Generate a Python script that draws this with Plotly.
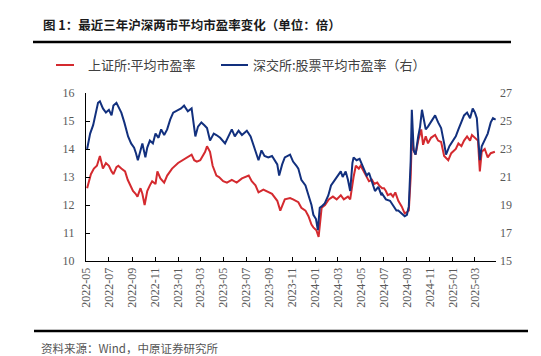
import plotly.graph_objects as go

# ---------------- data ----------------
red_name = "上证所:平均市盈率"
blue_name = "深交所:股票平均市盈率（右）"

red_dates = [
    "2022-05-04", "2022-05-14", "2022-05-22", "2022-05-30", "2022-06-07", "2022-06-15", "2022-06-23",
    "2022-07-01", "2022-07-08", "2022-07-13", "2022-07-21", "2022-07-26", "2022-08-03", "2022-08-13",
    "2022-08-20", "2022-08-28", "2022-09-03", "2022-09-10", "2022-09-15", "2022-09-23", "2022-09-28",
    "2022-10-04", "2022-10-11", "2022-10-18", "2022-10-24", "2022-11-02", "2022-11-07", "2022-11-15",
    "2022-11-25", "2022-12-03", "2022-12-16", "2023-01-01", "2023-01-14", "2023-01-27", "2023-02-06",
    "2023-02-13", "2023-02-20", "2023-03-01", "2023-03-09", "2023-03-14", "2023-03-19", "2023-03-27",
    "2023-04-03", "2023-04-08", "2023-04-13", "2023-04-20", "2023-05-01", "2023-05-11", "2023-05-24",
    "2023-06-06", "2023-06-20", "2023-07-08", "2023-07-16", "2023-07-26", "2023-08-03", "2023-08-16",
    "2023-08-29", "2023-09-08", "2023-09-22", "2023-09-30", "2023-10-12", "2023-10-26", "2023-11-03",
    "2023-11-12", "2023-11-17", "2023-11-25", "2023-12-06", "2023-12-14", "2023-12-22", "2023-12-27",
    "2024-01-04", "2024-01-10", "2024-01-15", "2024-01-18", "2024-01-27", "2024-02-06", "2024-02-17",
    "2024-02-27", "2024-03-09", "2024-03-17", "2024-03-28", "2024-04-03", "2024-04-12", "2024-04-18",
    "2024-04-26", "2024-05-01", "2024-05-09", "2024-05-17", "2024-05-23", "2024-05-31", "2024-06-06",
    "2024-06-14", "2024-06-19", "2024-06-27", "2024-07-02", "2024-07-07", "2024-07-12", "2024-07-20",
    "2024-07-26", "2024-08-01", "2024-08-09", "2024-08-18", "2024-08-26", "2024-09-01", "2024-09-06",
    "2024-09-11", "2024-09-14", "2024-09-19", "2024-09-24", "2024-10-01", "2024-10-09", "2024-10-14",
    "2024-10-21", "2024-10-27", "2024-11-04", "2024-11-15", "2024-11-23", "2024-12-01", "2024-12-09",
    "2024-12-20", "2024-12-28", "2025-01-09", "2025-01-16", "2025-01-24", "2025-01-31", "2025-02-08",
    "2025-02-16", "2025-02-21", "2025-03-01", "2025-03-09", "2025-03-14", "2025-03-19", "2025-03-27",
    "2025-04-04", "2025-04-12", "2025-04-23",
]
red_vals = [
    12.6, 13.1, 13.3, 13.4, 13.75, 13.3, 13.5,
    13.4, 13.2, 13.1, 13.35, 13.4, 13.3, 13.2,
    12.9, 12.7, 12.5, 12.4, 12.3, 12.6, 12.4,
    12.0, 12.5, 12.7, 12.85, 12.75, 13.2, 12.95,
    12.8, 13.05, 13.3, 13.5, 13.6, 13.7, 13.8,
    13.6, 13.55, 13.6, 13.8, 13.9, 14.1, 13.9,
    13.4, 13.2, 13.05, 13.0, 12.85, 12.8, 12.9,
    12.8, 12.95, 13.05, 12.85, 12.7, 12.45, 12.55,
    12.45, 12.4, 12.15, 11.8, 12.2, 12.25, 12.2,
    12.15, 12.1, 11.9, 11.8, 11.6, 11.3, 11.2,
    11.1, 10.86, 11.6, 11.9, 12.0, 12.2, 12.3,
    12.2, 12.35, 12.2, 12.3, 12.2, 13.0, 13.4,
    13.3, 13.4, 13.2, 13.0, 12.85, 12.9, 12.75,
    12.8, 12.7, 12.6, 12.6, 12.5, 12.35, 12.4,
    12.3, 12.45, 12.15, 11.95, 11.7, 11.75, 11.8,
    13.0, 14.4, 13.95, 13.8, 14.3, 14.7, 14.15,
    14.45, 14.2, 14.4, 14.5, 14.3, 14.25, 13.75,
    13.6, 13.85, 14.0, 14.2, 14.1, 14.3, 14.45,
    14.3, 14.5, 14.4, 14.3, 13.2, 13.9, 14.0,
    13.7, 13.85, 13.9,
]

blue_dates = [
    "2022-05-04", "2022-05-12", "2022-05-20", "2022-05-28", "2022-06-02", "2022-06-07", "2022-06-15",
    "2022-06-23", "2022-07-01", "2022-07-08", "2022-07-13", "2022-07-21", "2022-07-29", "2022-08-03",
    "2022-08-11", "2022-08-21", "2022-08-29", "2022-09-06", "2022-09-11", "2022-09-16", "2022-09-23",
    "2022-09-28", "2022-10-06", "2022-10-11", "2022-10-18", "2022-10-26", "2022-11-02", "2022-11-10",
    "2022-11-17", "2022-11-25", "2022-12-03", "2022-12-11", "2022-12-19", "2023-01-01", "2023-01-09",
    "2023-01-17", "2023-01-27", "2023-02-06", "2023-02-11", "2023-02-16", "2023-02-23", "2023-03-04",
    "2023-03-12", "2023-03-19", "2023-03-27", "2023-04-06", "2023-04-13", "2023-04-23", "2023-05-06",
    "2023-05-16", "2023-05-24", "2023-06-01", "2023-06-11", "2023-06-20", "2023-07-03", "2023-07-13",
    "2023-07-21", "2023-07-28", "2023-08-03", "2023-08-11", "2023-08-19", "2023-08-29", "2023-09-08",
    "2023-09-22", "2023-09-27", "2023-10-05", "2023-10-12", "2023-10-26", "2023-11-03", "2023-11-12",
    "2023-11-17", "2023-11-25", "2023-12-06", "2023-12-14", "2023-12-22", "2023-12-27", "2024-01-03",
    "2024-01-08", "2024-01-13", "2024-01-18", "2024-01-26", "2024-02-05", "2024-02-12", "2024-02-20",
    "2024-03-01", "2024-03-09", "2024-03-14", "2024-03-22", "2024-03-28", "2024-04-03", "2024-04-09",
    "2024-04-12", "2024-04-20", "2024-04-28", "2024-05-09", "2024-05-17", "2024-05-23", "2024-05-31",
    "2024-06-08", "2024-06-17", "2024-06-25", "2024-06-27", "2024-07-07", "2024-07-18", "2024-07-26",
    "2024-08-04", "2024-08-09", "2024-08-18", "2024-08-26", "2024-09-01", "2024-09-06", "2024-09-11",
    "2024-09-14", "2024-09-19", "2024-09-24", "2024-10-01", "2024-10-06", "2024-10-11", "2024-10-16",
    "2024-10-21", "2024-10-27", "2024-11-04", "2024-11-15", "2024-11-23", "2024-12-01", "2024-12-09",
    "2024-12-14", "2024-12-23", "2025-01-01", "2025-01-09", "2025-01-16", "2025-01-24", "2025-01-31",
    "2025-02-08", "2025-02-16", "2025-02-23", "2025-03-01", "2025-03-06", "2025-03-11", "2025-03-14",
    "2025-03-19", "2025-03-27", "2025-04-04", "2025-04-12", "2025-04-18", "2025-04-25",
]
blue_vals = [
    23.0, 24.1, 24.7, 25.6, 26.3, 26.4, 25.9,
    25.6, 25.8, 25.4, 26.1, 26.3, 25.9, 25.6,
    24.9, 23.9, 23.4, 23.1, 22.7, 22.2, 22.9,
    23.4, 22.4, 23.1, 23.6, 23.4, 24.1, 23.8,
    24.4, 24.0, 24.4, 25.1, 25.6, 25.8, 25.9,
    26.1, 25.7, 25.9, 24.7, 23.9, 24.6, 24.9,
    24.7, 24.5, 23.6, 24.1, 24.0, 23.8, 23.4,
    24.0, 24.4, 23.9, 24.3, 24.0, 24.3, 23.9,
    23.2, 22.7, 22.2, 22.9, 22.5, 22.4, 22.5,
    21.9, 21.1, 21.9, 22.4, 22.6, 22.1, 21.8,
    21.6, 20.8, 20.4, 19.7, 19.0, 18.3, 18.0,
    17.2, 18.8, 18.9, 19.1, 19.7, 20.4, 20.7,
    21.1, 21.4, 21.0, 21.4, 20.8, 20.0, 22.0,
    22.4, 22.2, 22.3, 21.6, 21.1, 21.3, 20.7,
    20.0, 20.3, 19.7, 19.8, 19.4, 19.3, 19.0,
    18.6, 18.6, 18.4, 18.2, 18.3, 18.9, 22.2,
    25.8, 22.9, 22.6, 23.9, 24.6, 25.8, 25.1,
    24.4, 24.6, 24.9, 25.4, 24.9, 24.5, 23.4,
    22.6, 23.2, 23.6, 23.9, 24.4, 25.0, 25.4,
    25.6, 25.2, 25.9, 25.6, 25.2, 23.4, 22.2,
    23.2, 23.6, 24.1, 24.9, 25.2, 25.1,
]

x_tick_labels = [
    "2022-05", "2022-07", "2022-09", "2022-11", "2023-01", "2023-03", "2023-05", "2023-07", "2023-09",
    "2023-11", "2024-01", "2024-03", "2024-05", "2024-07", "2024-09", "2024-11", "2025-01", "2025-03",
]
left_ticks = [10, 11, 12, 13, 14, 15, 16]
right_ticks = [15, 17, 19, 21, 23, 25, 27]

title_text = "图 1：最近三年沪深两市平均市盈率变化（单位：倍）"
source_text = "资料来源：Wind，中原证券研究所"

# ---------------- styles ----------------
RED = "#D42A2F"
BLUE = "#12307E"
SERIF = "Liberation Serif"
TICK_FONT = dict(family=SERIF, size=12, color="#595959")
CJK = "Noto Sans CJK SC"

fig = go.Figure()
fig.add_trace(go.Scatter(x=red_dates, y=red_vals, mode="lines", name=red_name,
                         line=dict(color=RED, width=2), yaxis="y"))
fig.add_trace(go.Scatter(x=blue_dates, y=blue_vals, mode="lines", name=blue_name,
                         line=dict(color=BLUE, width=2), yaxis="y2"))

fig.update_layout(
    template="none",
    font=dict(family=SERIF, size=12, color="#595959"),
    width=541, height=356,
    margin=dict(l=78, r=53, t=85, b=103),
    paper_bgcolor="white", plot_bgcolor="white",
    showlegend=False,
    xaxis=dict(
        type="date", range=["2022-05-01", "2025-04-26"],
        tickmode="array", tickvals=[t + "-01" for t in x_tick_labels], ticktext=x_tick_labels,
        tickangle=-90, ticks="inside", ticklen=4, tickcolor="black",
        showline=True, linecolor="black", linewidth=1, showgrid=False, zeroline=False,
        tickfont=TICK_FONT, ticklabelstandoff=1,
    ),
    yaxis=dict(
        range=[10, 16], tickmode="array", tickvals=left_ticks,
        ticks="inside", ticklen=4, tickcolor="black",
        showline=True, linecolor="black", linewidth=1, showgrid=False, zeroline=False,
        tickfont=TICK_FONT, ticklabelstandoff=8,
    ),
    yaxis2=dict(
        range=[15, 27], tickmode="array", tickvals=right_ticks,
        overlaying="y", side="right", ticks="", showline=False,
        showgrid=False, zeroline=False, tickfont=TICK_FONT, ticklabelstandoff=3,
    ),
)

# Title, rules, legend, source
fig.add_annotation(text="<b>" + title_text + "</b>", xref="paper", yref="paper",
                   x=(33 - 78) / 410, y=1 + (85 - 16) / 168, xanchor="left", yanchor="middle",
                   showarrow=False, font=dict(family=CJK, size=12.5, color="#1a1a1a"))
fig.add_shape(type="line", xref="paper", yref="paper",
              x0=(25 - 78) / 410, x1=(503 - 78) / 410, y0=1 + (85 - 34) / 168, y1=1 + (85 - 34) / 168,
              line=dict(color="black", width=2.5))
fig.add_shape(type="line", xref="paper", yref="paper",
              x0=(26 - 78) / 410, x1=(520 - 78) / 410, y0=1 + (85 - 323) / 168, y1=1 + (85 - 323) / 168,
              line=dict(color="black", width=2.5))

leg_y = 1 + (85 - 57) / 168
fig.add_shape(type="line", xref="paper", yref="paper",
              x0=(48 - 78) / 410, x1=(66 - 78) / 410, y0=leg_y, y1=leg_y, line=dict(color=RED, width=2))
fig.add_annotation(text=red_name, xref="paper", yref="paper", x=(78 - 78) / 410, y=leg_y,
                   xanchor="left", yanchor="middle", showarrow=False,
                   font=dict(family=CJK, size=13, color="#404040"))
fig.add_shape(type="line", xref="paper", yref="paper",
              x0=(213 - 78) / 410, x1=(240 - 78) / 410, y0=leg_y, y1=leg_y, line=dict(color=BLUE, width=2))
fig.add_annotation(text=blue_name, xref="paper", yref="paper", x=(243 - 78) / 410, y=leg_y,
                   xanchor="left", yanchor="middle", showarrow=False,
                   font=dict(family=CJK, size=13, color="#404040"))

fig.add_annotation(text=source_text, xref="paper", yref="paper",
                   x=(31 - 78) / 410, y=1 + (85 - 340) / 168, xanchor="left", yanchor="middle",
                   showarrow=False, font=dict(family=CJK, size=11.5, color="#555555"))

fig.write_html("out.html")
